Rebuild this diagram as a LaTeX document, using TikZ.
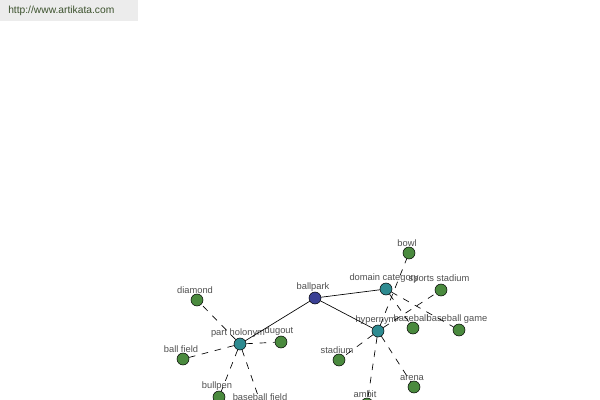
\documentclass[tikz,border=0pt]{standalone}
\usepackage{fontspec}
\setmainfont{Liberation Sans}
\definecolor{leafgreen}{RGB}{74,138,62}
\definecolor{relteal}{RGB}{46,139,145}
\definecolor{rootblue}{RGB}{58,64,148}
\definecolor{labelgray}{RGB}{80,80,80}
\definecolor{bannergray}{RGB}{236,236,236}
\definecolor{bannertext}{RGB}{60,82,45}
\tikzset{
wordnode/.style={
	draw,
	circle,
	minimum size=9pt,
	inner sep=0pt,
	line width=0.4pt,
	label distance=0.8pt
}
}
\tikzset{
leaf/.style={wordnode, fill=leafgreen},
relation/.style={wordnode, fill=relteal},
root/.style={wordnode, fill=rootblue},
link/.style={draw, line width=0.5pt},
weak/.style={draw, line width=0.5pt, dash pattern=on 5pt off 5pt},
every label/.style={font=\fontsize{7}{8}\selectfont, text=labelgray, inner sep=0pt, xshift=-1.5pt},
banner/.style={
	fill=bannergray,
	anchor=north west,
	minimum height=15.75pt,
	inner xsep=6pt,
	text width=91.5pt,
	align=left,
	text=bannertext,
	font=\fontsize{7.7}{9}\selectfont
}
}
\begin{document}
\begin{tikzpicture}[x=0.75pt,y=-0.75pt]
		\useasboundingbox (0,0) rectangle (600,400);
		\clip (0,0) rectangle (600,400);
		\fill[white] (0,0) rectangle (600,400);
		\node[banner] (site) at (0,0) {http://www.artikata.com};
		\node[root, label=above:ballpark] (ballpark) at (315,298) {};
		\node[relation, label=above:domain category] (domain) at (386,289) {};
		\node[relation, label=above:hypernym] (hypernym) at (378,331) {};
		\node[relation, label=above:part holonym] (holonym) at (240,344) {};
		\node[leaf, label=above:diamond] (diamond) at (197,300) {};
		\node[leaf, label=above:ball field] (ballfield) at (183,359) {};
		\node[leaf, label=above:dugout] (dugout) at (281,342) {};
		\node[leaf, label=above:bullpen] (bullpen) at (219,397) {};
		\node[leaf, label=above:baseball field] (baseballfield) at (262,407) {};
		\node[leaf, label=above:bowl] (bowl) at (409,253) {};
		\node[leaf, label=above:sports stadium] (sportsstadium) at (441,290) {};
		\node[leaf, label=above:baseball] (baseball) at (413,328) {};
		\node[leaf, label=above:baseball game] (baseballgame) at (459,330) {};
		\node[leaf, label=above:stadium] (stadium) at (339,360) {};
		\node[leaf, label=above:arena] (arena) at (414,387) {};
		\node[leaf, label=above:ambit] (ambit) at (367,404) {};
		\draw[link] (ballpark) -- (holonym);
		\draw[link] (ballpark) -- (domain);
		\draw[link] (ballpark) -- (hypernym);
		\draw[weak] (holonym) -- (diamond);
		\draw[weak] (holonym) -- (ballfield);
		\draw[weak] (holonym) -- (dugout);
		\draw[weak] (holonym) -- (bullpen);
		\draw[weak] (holonym) -- (baseballfield);
		\draw[weak] (domain) -- (baseball);
		\draw[weak] (domain) -- (baseballgame);
		\draw[weak] (hypernym) -- (bowl);
		\draw[weak] (hypernym) -- (sportsstadium);
		\draw[weak] (hypernym) -- (stadium);
		\draw[weak] (hypernym) -- (arena);
		\draw[weak] (hypernym) -- (ambit);
		\end{tikzpicture}
\end{document}
